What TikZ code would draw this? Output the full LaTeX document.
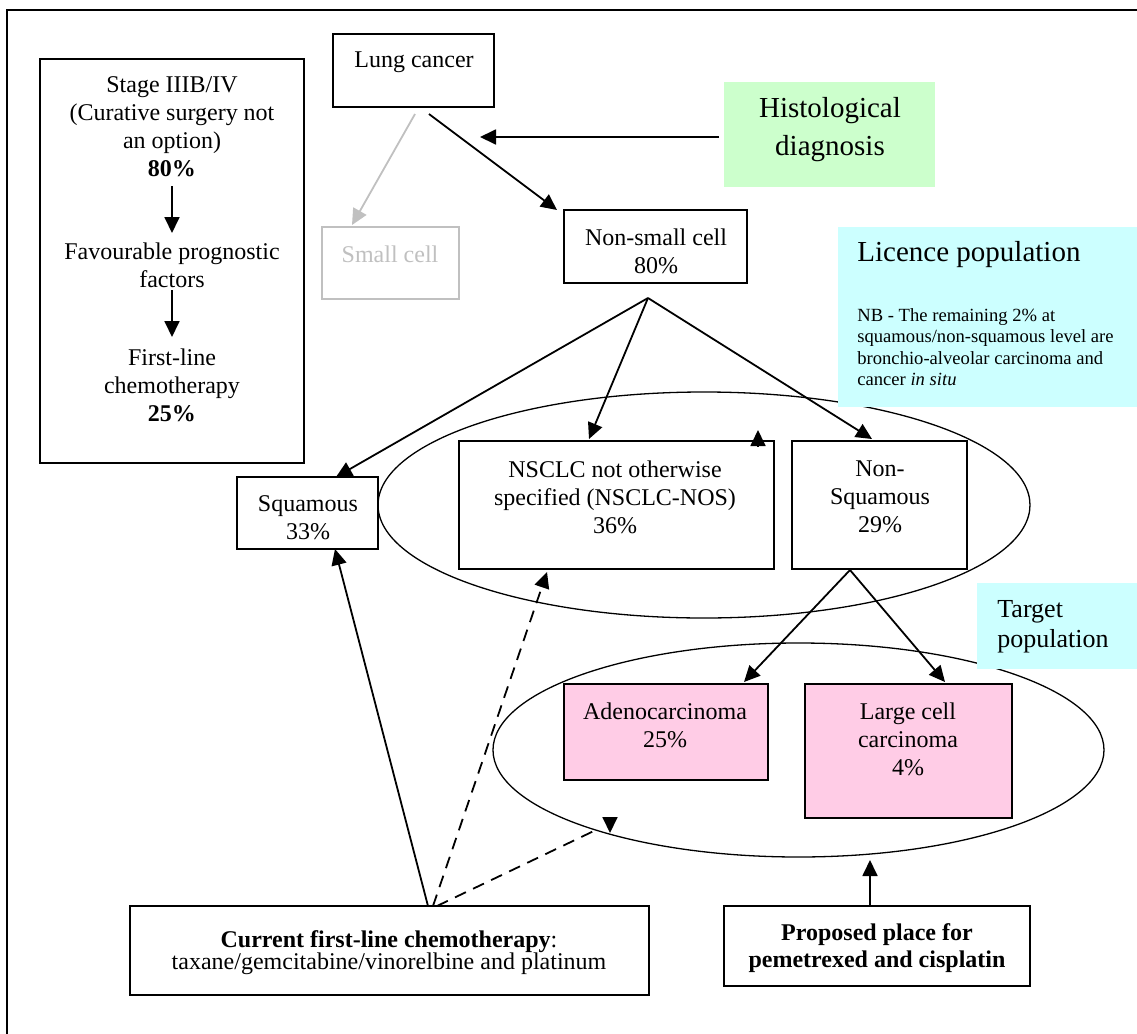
\documentclass[tikz,border=0pt]{standalone}
\usepackage{fontspec}
\setmainfont{Liberation Serif}
\usetikzlibrary{arrows.meta}
\definecolor{hgreen}{HTML}{CCFFCC}
\definecolor{lcyan}{HTML}{CCFFFF}
\definecolor{lpink}{HTML}{FFCCE6}
\definecolor{lgrey}{HTML}{C0C0C0}
\begin{document}
\begin{tikzpicture}[x=0.5pt,y=-0.5pt,
  box/.style={draw, line width=0.9pt, fill=white, inner sep=0pt},
  fillbox/.style={draw=none, fill=#1, inner sep=0pt},
  txt/.style={inner sep=0pt, align=center, font=\fontsize{12}{14}\selectfont},
  con/.style={line width=0.9pt, -{Triangle[length=8pt,width=7.5pt]}},
  ell/.style={line width=0.65pt},
  dsh/.style={dash pattern=on 6pt off 4pt}
]
\useasboundingbox (0,0) rectangle (1137,1034);
\clip (0,0) rectangle (1137,1034);
\draw[line width=0.9pt] (7,10) rectangle (1160,1060);

% ellipses
\draw[ell] (704,505) ellipse [x radius=163pt, y radius=56.5pt];
\draw[ell] (798.5,750) ellipse [x radius=152.75pt, y radius=53.5pt];

% boxes
\node[box, minimum width=132pt, minimum height=202pt] (stage) at (172,261) {};
\node[box, minimum width=80.5pt, minimum height=36.5pt] (lung) at (413.5,70.5) {};
\node[fillbox=hgreen, minimum width=105.5pt, minimum height=52.5pt] (hist) at (829.5,134.5) {};
\node[box, draw=lgrey, minimum width=68.5pt, minimum height=36pt] (small) at (390.5,263) {};
\node[box, minimum width=91.5pt, minimum height=36.5pt] (nsc) at (655.5,246.5) {};
\node[fillbox=lcyan, minimum width=151pt, minimum height=90pt] (lic) at (989,317) {};
\node[box, minimum width=157.5pt, minimum height=64pt] (nsclc) at (616.5,505) {};
\node[box, minimum width=87.5pt, minimum height=64pt] (nsq) at (879.5,505) {};
\node[box, minimum width=70.5pt, minimum height=36pt] (sq) at (307.5,513) {};
\node[fillbox=lcyan, minimum width=81.5pt, minimum height=43pt] (tgt) at (1058.5,626) {};
\node[box, fill=lpink, minimum width=102pt, minimum height=48pt] (adeno) at (666,732) {};
\node[box, fill=lpink, minimum width=103.5pt, minimum height=67pt] (large) at (908.5,751) {};
\node[box, minimum width=259.5pt, minimum height=44.5pt] (cur) at (389.5,950.5) {};
\node[box, minimum width=153pt, minimum height=40pt] (prop) at (877,946) {};

% texts
\node[txt] (stageA) at (172,127) {Stage IIIB/IV\\(Curative surgery not\\an option)\\\textbf{80\%}};
\node[txt] (stageB) at (172,265) {Favourable prognostic\\factors};
\node[txt] (stageC) at (172,385) {First-line\\chemotherapy\\\textbf{25\%}};
\node[txt] (lungT) at (414,62) {Lung cancer};
\node[txt, font=\fontsize{14.5}{19}\selectfont] (histT) at (830,130) {Histological\\diagnosis};
\node[txt, text=lgrey] (smallT) at (390,254) {Small cell};
\node[txt] (nscT) at (656,251) {Non-small cell\\80\%};
\node[txt, anchor=west, font=\fontsize{14.5}{17}\selectfont] (licT) at (857,255) {Licence population};
\node[txt, anchor=west, align=left, font=\fontsize{9.3}{10.65}\selectfont] (nbT) at (857,347) {NB - The remaining 2\% at\\squamous/non-squamous level are\\bronchio-alveolar carcinoma and\\cancer \textit{in situ}};
\node[txt] (nsclcT) at (615,497) {NSCLC not otherwise\\specified (NSCLC-NOS)\\36\%};
\node[txt] (nsqT) at (880,497) {Non-\\Squamous\\29\%};
\node[txt] (sqT) at (308,518) {Squamous\\33\%};
\node[txt, anchor=west, align=left, font=\fontsize{13}{15}\selectfont] (tgtT) at (997,627) {Target\\population};
\node[txt] (adenoT) at (665,725) {Adenocarcinoma\\25\%};
\node[txt] (largeT) at (908,739) {Large cell\\carcinoma\\4\%};
\node[txt, font=\fontsize{12}{11}\selectfont] (curT) at (389,953) {\textbf{Current first-line chemotherapy}:\\taxane/gemcitabine/vinorelbine and platinum};
\node[txt, font=\fontsize{12}{13.5}\selectfont\bfseries] (propT) at (877,948) {Proposed place for\\pemetrexed and cisplatin};

% connector end points
\coordinate (a1s) at (172,186); \coordinate (a1e) at (172,233);
\coordinate (a2s) at (172,290); \coordinate (a2e) at (172,337);
\coordinate (lgS) at (415,114); \coordinate (smTip) at (352,225);
\coordinate (lbS) at (429,114); \coordinate (nsTip) at (557,210);
\coordinate (hS) at (719,137); \coordinate (hTip) at (480,137);
\coordinate (apex) at (648,298);
\coordinate (sqTip) at (336,477); \coordinate (nsclcTip) at (589,439); \coordinate (nsqTip) at (872,439);
\coordinate (strayS) at (758,446); \coordinate (strayE) at (758,430);
\coordinate (nsqApex) at (850,570);
\coordinate (adTip) at (744,682); \coordinate (lgTip) at (945,682);
\coordinate (c1) at (428,906); \coordinate (sqBTip) at (335,549);
\coordinate (c2) at (433,906); \coordinate (nsclcBTip) at (547,572);
\coordinate (c3) at (437,906); \coordinate (e2pt) at (598,829);
\coordinate (hdS) at (610,818); \coordinate (hdE) at (610,833);
\coordinate (pS) at (870,906); \coordinate (pTip) at (870,860);

% connectors
\draw[con] (a1s) -- (a1e);
\draw[con] (a2s) -- (a2e);
\draw[con, lgrey] (lgS) -- (smTip);
\draw[con] (lbS) -- (nsTip);
\draw[con] (hS) -- (hTip);
\draw[con] (apex) -- (sqTip);
\draw[con] (apex) -- (nsclcTip);
\draw[con] (apex) -- (nsqTip);
\draw[con] (strayS) -- (strayE);
\draw[con] (nsqApex) -- (adTip);
\draw[con] (nsqApex) -- (lgTip);
\draw[con] (c1) -- (sqBTip);
\draw[con, dsh] (c2) -- (nsclcBTip);
\draw[line width=0.9pt, dsh] (c3) -- (e2pt);
\draw[con] (hdS) -- (hdE);
\draw[con] (pS) -- (pTip);
\end{tikzpicture}
\end{document}
